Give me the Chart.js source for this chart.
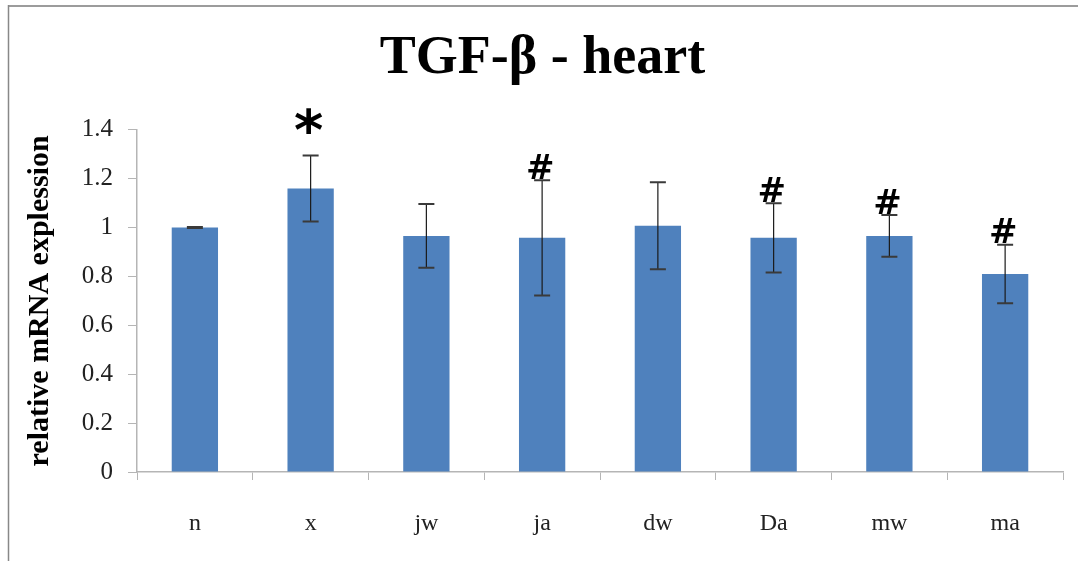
<!DOCTYPE html>
<html>
<head>
<meta charset="utf-8">
<title>TGF-β - heart</title>
<script src="https://cdn.jsdelivr.net/npm/chart.js@4/dist/chart.umd.min.js"></script>
<style>
  html, body { margin: 0; padding: 0; background: #fff; }
  #wrap { width: 1078px; height: 561px; position: relative; }
</style>
</head>
<body>
<div id="wrap"><canvas id="chart"></canvas></div>
<script>
// groups and measured relative expression
const groups = ['n', 'x', 'jw', 'ja', 'dw', 'Da', 'mw', 'ma'];
const expression = [1.0, 1.16, 0.966, 0.958, 1.007, 0.958, 0.966, 0.81];
const errors = [0.002, 0.135, 0.13, 0.236, 0.178, 0.142, 0.085, 0.12];
const marks = ['', '*', '', '#', '', '#', '#', '#'];
const yTicks = [0, 0.2, 0.4, 0.6, 0.8, 1, 1.2, 1.4];

const BAR_BLUE = '#4F81BD';
const AXIS_GREY = '#b5b5b5';
const TEXT = '#222';

// gap between error bar top and centre of the mark
const markOffset = { '*': 34, '#': 14 };

// thin frame like the original figure
const framePlugin = {
  id: 'frame',
  beforeDraw(chart) {
    const ctx = chart.ctx;
    ctx.save();
    ctx.strokeStyle = '#9c9c9c';
    ctx.lineWidth = 2;
    ctx.beginPath();
    ctx.moveTo(8, 6);
    ctx.lineTo(chart.width, 6);
    ctx.stroke();
    ctx.strokeStyle = '#888';
    ctx.lineWidth = 1.5;
    ctx.beginPath();
    ctx.moveTo(8.5, 5);
    ctx.lineTo(8.5, chart.height);
    ctx.stroke();
    ctx.restore();
  }
};

// error bars plus significance marks
const errorBarPlugin = {
  id: 'errorBars',
  afterDatasetsDraw(chart) {
    const ctx = chart.ctx;
    const yScale = chart.scales.y;
    const meta = chart.getDatasetMeta(0);
    ctx.save();
    meta.data.forEach((bar, i) => {
      const x = bar.x;
      const top = yScale.getPixelForValue(expression[i] + errors[i]);
      const bottom = yScale.getPixelForValue(expression[i] - errors[i]);
      const cap = 8;

      ctx.strokeStyle = '#1a1a1a';
      ctx.lineWidth = 1.2;
      ctx.beginPath();
      ctx.moveTo(x, top);
      ctx.lineTo(x, bottom);
      ctx.stroke();

      ctx.strokeStyle = '#3a3a3a';
      ctx.lineWidth = 2;
      ctx.beginPath();
      ctx.moveTo(x - cap, top);
      ctx.lineTo(x + cap, top);
      ctx.moveTo(x - cap, bottom);
      ctx.lineTo(x + cap, bottom);
      ctx.stroke();

      const m = marks[i];
      if (m) {
        ctx.fillStyle = '#000';
        ctx.font = m === '*' ? 'bold 56px "DejaVu Sans"' : 'bold 34px "DejaVu Sans"';
        ctx.textAlign = 'center';
        ctx.textBaseline = 'alphabetic';
        const tm = ctx.measureText(m);
        const centre = top - markOffset[m];
        const base = centre + (tm.actualBoundingBoxAscent - tm.actualBoundingBoxDescent) / 2;
        ctx.fillText(m, x - 2, base);
      }
    });
    ctx.restore();
  }
};

new Chart(document.getElementById('chart'), {
  type: 'bar',
  data: {
    labels: groups,
    datasets: [{
      label: 'relative mRNA explession',
      data: expression,
      backgroundColor: BAR_BLUE,
      borderWidth: 0,
      barPercentage: 0.4,
      categoryPercentage: 1.0
    }]
  },
  options: {
    responsive: true,
    maintainAspectRatio: false,
    animation: false,
    layout: { padding: { left: 22, right: 15, top: 0, bottom: 0 } },
    plugins: {
      legend: { display: false },
      tooltip: { enabled: false },
      title: {
        display: true,
        text: 'TGF-β - heart',
        color: '#000',
        font: { family: '"Liberation Serif"', size: 54, weight: 'bold' },
        padding: { top: 27, bottom: 38 }
      }
    },
    scales: {
      x: {
        grid: {
          drawOnChartArea: false,
          drawTicks: true,
          tickLength: 8,
          color: AXIS_GREY,
          offset: true
        },
        border: { color: AXIS_GREY, width: 1.5 },
        ticks: {
          color: TEXT,
          padding: 29,
          font: { family: '"Liberation Serif"', size: 24 }
        },
        afterFit(scale) { scale.height = 89; }
      },
      y: {
        min: 0,
        max: 1.4,
        afterBuildTicks(scale) {
          scale.ticks = yTicks.map(v => ({ value: v }));
        },
        grid: {
          drawOnChartArea: false,
          drawTicks: true,
          tickLength: 9,
          color: AXIS_GREY
        },
        border: { color: AXIS_GREY, width: 1.5 },
        ticks: {
          color: TEXT,
          padding: 15,
          font: { family: '"Liberation Serif"', size: 25 },
          callback: v => String(Math.round(v * 10) / 10)
        },
        title: {
          display: true,
          text: 'relative mRNA explession',
          color: '#000',
          font: { family: '"Liberation Serif"', size: 30, weight: 'bold' },
          padding: { top: 0, bottom: 0 }
        },
        afterFit(scale) { scale.width = 115; }
      }
    }
  },
  plugins: [framePlugin, errorBarPlugin]
});
</script>
</body>
</html>
